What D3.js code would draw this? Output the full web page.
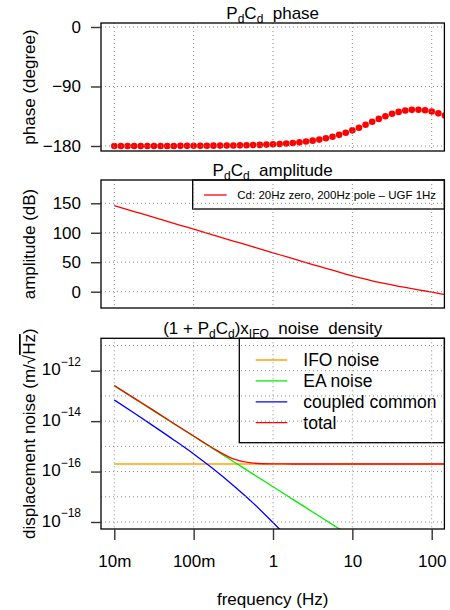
<!DOCTYPE html>
<html>
<head>
<meta charset="utf-8">
<script src="https://cdn.jsdelivr.net/npm/d3@7"></script>
<style>
body { margin: 0; background: #fff; }
text { font-family: "Liberation Sans", Arial, sans-serif; fill: #000; white-space: pre; }
</style>
</head>
<body>
<svg id="chart" width="450" height="610"></svg>
<script>
// values (12 points per decade for the loop gain)
const loopFreq = [0.01, 0.01212, 0.01468, 0.01778, 0.02154, 0.0261, 0.03162, 0.03831, 0.04642, 0.05623,
    0.06813, 0.08254, 0.1, 0.1212, 0.1468, 0.1778, 0.2154, 0.261, 0.3162, 0.3831,
    0.4642, 0.5623, 0.6813, 0.8254, 1, 1.212, 1.468, 1.778, 2.154, 2.61,
    3.162, 3.831, 4.642, 5.623, 6.813, 8.254, 10, 12.12, 14.68, 17.78,
    21.54, 26.1, 31.62, 38.31, 46.42, 56.23, 68.13, 82.54, 100, 121.2, 146.8];
const phaseDeg = [-180, -180, -180, -180, -179.9, -179.9, -179.9, -179.9, -179.9, -179.9,
    -179.8, -179.8, -179.7, -179.7, -179.6, -179.5, -179.4, -179.3, -179.2, -179,
    -178.8, -178.6, -178.3, -177.9, -177.4, -176.9, -176.2, -175.4, -174.5, -173.3,
    -171.9, -170.3, -168.3, -165.9, -163.1, -159.9, -156.3, -152.3, -147.9, -143.4,
    -139, -134.9, -131.3, -128.4, -126.4, -125.3, -125.2, -126, -127.9, -130.6, -134];
const ampDb = [146, 142.7, 139.4, 136, 132.7, 129.4, 126, 122.7, 119.4, 116,
    112.7, 109.4, 106, 102.7, 99.4, 96, 92.7, 89.4, 86, 82.7,
    79.4, 76, 72.7, 69.4, 66, 62.7, 59.4, 56.1, 52.7, 49.4,
    46.1, 42.8, 39.6, 36.4, 33.2, 30, 27, 24, 21.2, 18.5,
    16, 13.6, 11.4, 9.2, 7.2, 5.2, 3.2, 1.2, -0.8, -2.9, -5.1];

const noiseFreq = [0.01, 0.01778, 0.03162, 0.05623, 0.1, 0.1778, 0.3162, 0.5623, 1, 1.778,
    3.162, 5.623, 10, 17.78, 31.62, 56.23, 100, 177.8];
const ifoNoise = [2e-16, 2e-16, 2e-16, 2e-16, 2e-16, 2e-16, 2e-16, 2e-16, 2e-16, 2e-16,
    2e-16, 2e-16, 2e-16, 2e-16, 2e-16, 2e-16, 2e-16, 2e-16];
const eaNoise = [2.5e-13, 7.9e-14, 2.5e-14, 7.9e-15, 2.5e-15, 7.9e-16, 2.5e-16, 7.9e-17, 2.5e-17, 7.9e-18,
    2.5e-18, 7.9e-19, 2.5e-19];
const commonNoise = [6.9e-14, 2.1e-14, 6.2e-15, 1.8e-15, 5.0e-16, 1.26e-16, 2.8e-17, 5.6e-18, 9.5e-19, 1.5e-19];
const totalNoise = [2.6e-13, 8.2e-14, 2.6e-14, 8.1e-15, 2.56e-15, 8.25e-16, 3.2e-16, 2.15e-16, 2.02e-16, 2e-16,
    2e-16, 2e-16, 2e-16, 2e-16, 2e-16, 2e-16, 2e-16, 2e-16];

const freqTicks = [0.01, 0.1, 1, 10, 100];
const freqLabels = ["10m", "100m", "1", "10", "100"];
const phaseTicks = [0, -90, -180];
const ampTicks = [0, 50, 100, 150];
const noiseGrid = [1e-11, 1e-12, 1e-13, 1e-14, 1e-15, 1e-16, 1e-17, 1e-18];
const noiseTicks = [1e-12, 1e-14, 1e-16, 1e-18];
const noiseNames = ["IFO noise", "EA noise", "coupled common", "total"];
const noiseColors = ["#ffa500", "#00ee00", "#0000ff", "#ff0000"];
const ampLegend = "Cd: 20Hz zero, 200Hz pole \u2013 UGF 1Hz";

const svg = d3.select("#chart");
const boxLeft = 101, boxRight = 444.4;
const fontSize = 17;

const x = d3.scaleLog().domain([0.01, 100]).range([114.3, 431.7]);
const yPhase = d3.scaleLinear().domain([-180, 0]).range([146, 27]);
const yAmp = d3.scaleLinear().domain([0, 150]).range([291.7, 203.3]);
const yNoise = d3.scaleLog().domain([1e-18, 1e-12]).range([522, 370.7]);

const panels = [
    {id: "phase", top: 23, bottom: 151},
    {id: "amp", top: 180, bottom: 308},
    {id: "noise", top: 338.3, bottom: 529}
];

const defs = svg.append("defs");
panels.forEach(p => {
    defs.append("clipPath").attr("id", "clip-" + p.id)
        .append("rect")
        .attr("x", boxLeft).attr("y", p.top)
        .attr("width", boxRight - boxLeft).attr("height", p.bottom - p.top);
    p.g = svg.append("g");
    p.data = p.g.append("g").attr("clip-path", `url(#clip-${p.id})`);
});

function drawGrid(p, yScale, yValues) {
    const grid = p.g.append("g")
        .attr("stroke", "#8c8c8c")
        .attr("stroke-dasharray", "1,3")
        .attr("stroke-width", 1);
    grid.selectAll(".vgrid").data(freqTicks).enter().append("line")
        .attr("x1", d => x(d)).attr("x2", d => x(d))
        .attr("y1", p.top).attr("y2", p.bottom);
    grid.selectAll(".hgrid").data(yValues).enter().append("line")
        .attr("x1", boxLeft).attr("x2", boxRight)
        .attr("y1", d => yScale(d)).attr("y2", d => yScale(d));
}

function drawBox(p) {
    p.g.append("rect")
        .attr("x", boxLeft).attr("y", p.top)
        .attr("width", boxRight - boxLeft).attr("height", p.bottom - p.top)
        .attr("fill", "none").attr("stroke", "#000").attr("stroke-width", 1.3);
}

function styleAxis(g) {
    g.select(".domain").remove();
    g.selectAll(".tick line").attr("stroke", "#333").attr("stroke-width", 1.4);
    g.selectAll(".tick text")
        .attr("font-size", fontSize)
        .attr("font-family", "Liberation Sans, Arial, sans-serif");
}

// title with subscripts: parts are [text, isSub]
function title(p, parts, baseline) {
    const t = svg.append("text")
        .attr("x", (boxLeft + boxRight) / 2)
        .attr("y", baseline)
        .attr("text-anchor", "middle")
        .attr("font-size", fontSize);
    let down = false;
    parts.forEach(([s, sub]) => {
        const span = t.append("tspan").text(s);
        if (sub && !down) { span.attr("dy", 4).attr("font-size", 12); down = true; }
        else if (sub) { span.attr("font-size", 12); }
        else if (down) { span.attr("dy", -4); down = false; }
    });
    return t;
}

function yLabel(text, cy) {
    return svg.append("text")
        .attr("transform", `translate(35,${cy}) rotate(-90)`)
        .attr("text-anchor", "middle")
        .attr("font-size", fontSize)
        .text(text);
}

// --- phase panel
const pPhase = panels[0];
pPhase.data.selectAll("circle")
    .data(loopFreq)
    .enter().append("circle")
    .attr("cx", d => x(d))
    .attr("cy", (d, i) => yPhase(phaseDeg[i]))
    .attr("r", 3.3)
    .attr("fill", "#ff0000");
drawGrid(pPhase, yPhase, phaseTicks);
drawBox(pPhase);
pPhase.g.append("g")
    .attr("transform", `translate(${boxLeft},0)`)
    .call(d3.axisLeft(yPhase).tickValues(phaseTicks).tickSize(10).tickPadding(10)
        .tickFormat(d => d < 0 ? "\u2212" + (-d) : d))
    .call(styleAxis);
title(pPhase, [["P"], ["d", true], ["C"], ["d", true], ["  phase"]], 18.5);
yLabel("phase (degree)", 87);

// --- amplitude panel
const pAmp = panels[1];
pAmp.data.append("path")
    .datum(loopFreq)
    .attr("fill", "none")
    .attr("stroke", "#ff0000")
    .attr("stroke-width", 1.3)
    .attr("d", d3.line().x(d => x(d)).y((d, i) => yAmp(ampDb[i])));

const ampLeg = pAmp.g.append("g");
ampLeg.append("rect")
    .attr("x", 192.7).attr("y", pAmp.top)
    .attr("width", boxRight - 192.7).attr("height", 29)
    .attr("fill", "#fff").attr("stroke", "#000").attr("stroke-width", 1.3);
ampLeg.append("line")
    .attr("x1", 204).attr("x2", 226.7).attr("y1", 195).attr("y2", 195)
    .attr("stroke", "#ff0000").attr("stroke-width", 1.3);
ampLeg.append("text")
    .attr("x", 237.3).attr("y", 199)
    .attr("font-size", 11.5)
    .text(ampLegend);

drawGrid(pAmp, yAmp, ampTicks);
drawBox(pAmp);
pAmp.g.append("g")
    .attr("transform", `translate(${boxLeft},0)`)
    .call(d3.axisLeft(yAmp).tickValues(ampTicks).tickSize(10).tickPadding(10))
    .call(styleAxis);
title(pAmp, [["P"], ["d", true], ["C"], ["d", true], ["  amplitude"]], 176);
yLabel("amplitude (dB)", 244);

// --- noise panel
const pNoise = panels[2];
const noiseLine = d3.line()
    .x(d => x(d[0]))
    .y(d => yNoise(d[1]))
    .curve(d3.curveMonotoneX);
const noiseSeries = [ifoNoise, eaNoise, commonNoise, totalNoise];
noiseSeries.forEach((vals, k) => {
    pNoise.data.append("path")
        .datum(vals.map((v, i) => [noiseFreq[i], v]))
        .attr("fill", "none")
        .attr("stroke", noiseColors[k])
        .attr("stroke-width", 1.3)
        .attr("d", noiseLine);
});

const noiseLeg = pNoise.g.append("g");
noiseLeg.append("rect")
    .attr("x", 239.3).attr("y", pNoise.top)
    .attr("width", boxRight - 239.3).attr("height", 104.4)
    .attr("fill", "#fff").attr("stroke", "#000").attr("stroke-width", 1.3);
const legRows = noiseLeg.selectAll(".row")
    .data(noiseNames)
    .enter().append("g")
    .attr("transform", (d, i) => `translate(0,${360 + i * 20.9})`);
legRows.append("line")
    .attr("x1", 255.7).attr("x2", 287.3)
    .attr("stroke", (d, i) => noiseColors[i])
    .attr("stroke-width", 1.3);
legRows.append("text")
    .attr("x", 303.3).attr("y", 6)
    .attr("font-size", 17.5)
    .text(d => d);

drawGrid(pNoise, yNoise, noiseGrid);
drawBox(pNoise);

const noiseAxis = pNoise.g.append("g")
    .attr("transform", `translate(${boxLeft},0)`)
    .call(d3.axisLeft(yNoise).tickValues(noiseTicks).tickSize(10).tickPadding(10).tickFormat(() => ""))
    .call(styleAxis);
noiseAxis.selectAll(".tick text").each(function(d) {
    const t = d3.select(this);
    t.append("tspan").attr("dy", 4).text("10");
    t.append("tspan").attr("dy", -9.5).attr("font-size", 12)
        .text("\u2212" + Math.round(-Math.log10(d)));
});

pNoise.g.append("g")
    .attr("transform", `translate(0,${pNoise.bottom})`)
    .call(d3.axisBottom(x).tickValues(freqTicks).tickSize(11).tickPadding(15)
        .tickFormat((d, i) => freqLabels[i]))
    .call(styleAxis);

title(pNoise, [["(1 + P"], ["d", true], ["C"], ["d", true], [")x"], ["IFO", true], ["  noise  density"]], 334);

const nLabel = yLabel("", 433.7);
nLabel.append("tspan").text("displacement noise (m/\u221a");
nLabel.append("tspan").style("text-decoration", "overline").text("Hz");
nLabel.append("tspan").text(")");

svg.append("text")
    .attr("x", (boxLeft + boxRight) / 2)
    .attr("y", 605)
    .attr("text-anchor", "middle")
    .attr("font-size", fontSize)
    .text("frequency (Hz)");
</script>
</body>
</html>
